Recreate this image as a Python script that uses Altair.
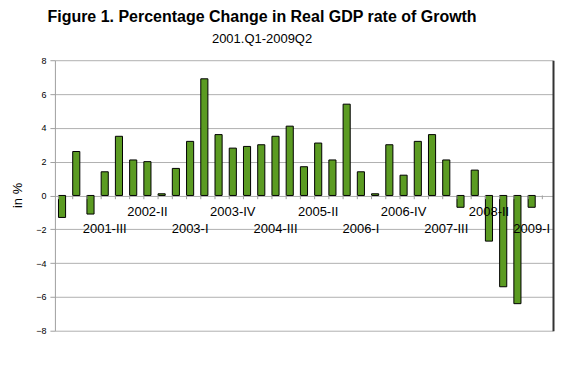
import altair as alt
import pandas as pd

quarters = [
    "2000-IV",
    "2001-I", "2001-II", "2001-III", "2001-IV",
    "2002-I", "2002-II", "2002-III", "2002-IV",
    "2003-I", "2003-II", "2003-III", "2003-IV",
    "2004-I", "2004-II", "2004-III", "2004-IV",
    "2005-I", "2005-II", "2005-III", "2005-IV",
    "2006-I", "2006-II", "2006-III", "2006-IV",
    "2007-I", "2007-II", "2007-III", "2007-IV",
    "2008-I", "2008-II", "2008-III", "2008-IV",
    "2009-I", "2009-II",
]
growth = [
    -1.3, 2.6, -1.1, 1.4,
    3.5, 2.1, 2.0, 0.1,
    1.6, 3.2, 6.9, 3.6,
    2.8, 2.9, 3.0, 3.5,
    4.1, 1.7, 3.1, 2.1,
    5.4, 1.4, 0.1, 3.0,
    1.2, 3.2, 3.6, 2.1,
    -0.7, 1.5, -2.7, -5.4,
    -6.4, -0.7, None,
]
upper_labels = ["2002-II", "2003-IV", "2005-II", "2006-IV", "2008-II"]
lower_labels = ["2001-III", "2003-I", "2004-III", "2006-I", "2007-III", "2009-I"]

df = pd.DataFrame({"q": quarters, "v": growth})
up_df = pd.DataFrame({"q": upper_labels})
lo_df = pd.DataFrame({"q": lower_labels})

FONT = "Liberation Sans"
xscale = alt.Scale(domain=quarters, paddingInner=0.5, paddingOuter=0.25)
yscale = alt.Scale(domain=[-8, 8], nice=False)

x_noaxis = alt.X("q:N", scale=xscale, axis=None, sort=quarters)
y_zero = alt.YDatum(0, scale=yscale, axis=None)

bars = alt.Chart(df).mark_bar(
    color="#5b9b22", stroke="#000000", strokeWidth=1
).encode(
    x=x_noaxis,
    y=alt.Y(
        "v:Q",
        scale=yscale,
        axis=alt.Axis(
            orient="left",
            values=[-8, -6, -4, -2, 0, 2, 4, 6, 8],
            title="in %",
            titleFont=FONT,
            titleFontSize=13,
            titleFontWeight="normal",
            titleColor="#000000",
            titleX=-30,
            titleY=135,
            titleAngle=-90,
            labelFont=FONT,
            labelFontSize=9,
            labelColor="#000000",
            labelPadding=4,
            tickSize=5,
            tickColor="#a0a0a0",
            domainColor="#a0a0a0",
            gridColor="#b0b0b0",
            grid=True,
        ),
    ),
)

ticks = alt.Chart(df).mark_rule(color="#a0a0a0", strokeWidth=1).encode(
    x=alt.X("q:N", scale=xscale, axis=None, sort=quarters, bandPosition=0),
    y=y_zero,
    y2=alt.datum(-0.22),
)

up_text = alt.Chart(up_df).mark_text(
    font=FONT, fontSize=13, color="#000000", dy=17
).encode(x=x_noaxis, y=y_zero, text="q:N")

lo_text = alt.Chart(lo_df).mark_text(
    font=FONT, fontSize=13, color="#000000", dy=34
).encode(x=x_noaxis, y=y_zero, text="q:N")

frame = alt.Chart(df).mark_rule(opacity=0).encode(
    y=alt.Y(
        "v:Q",
        scale=yscale,
        axis=alt.Axis(
            orient="right",
            labels=False,
            ticks=False,
            grid=False,
            title=None,
            domainColor="#333333",
            domainWidth=2,
        ),
    ),
)

chart = (
    alt.layer(bars, ticks, frame, up_text, lo_text)
    .resolve_axis(y="independent")
    .properties(
        width=499,
        height=271,
        autosize=alt.AutoSizeParams(type="none"),
        padding={"left": 47, "top": 52, "right": 2, "bottom": 10},
        title=alt.TitleParams(
            text="Figure 1. Percentage Change in Real GDP rate of Growth",
            subtitle="2001.Q1-2009Q2",
            font=FONT,
            fontSize=16,
            fontWeight="bold",
            color="#000000",
            subtitleFont=FONT,
            subtitleFontSize=13,
            subtitleColor="#000000",
            subtitlePadding=8,
            anchor="middle",
            dx=-42,
            offset=10,
        ),
    )
    .configure_view(stroke=None)
)

chart.save("out.html", embed_options={"renderer": "svg", "actions": False})
